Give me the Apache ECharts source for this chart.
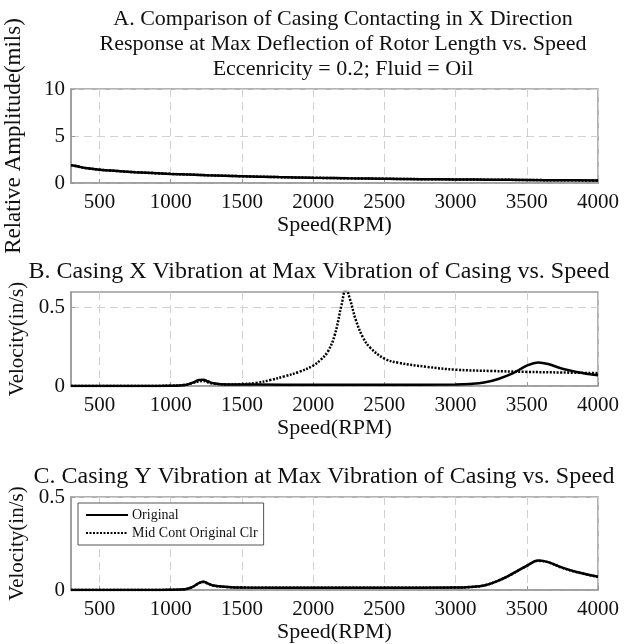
<!DOCTYPE html>
<html><head><meta charset="utf-8">
<script src="https://cdn.jsdelivr.net/npm/echarts@6/dist/echarts.min.js"></script>
<style>html,body{margin:0;padding:0;background:#fff}#c{width:635px;height:644px}</style>
</head><body><div id="c"></div>
<script>
// ---- data ----
var xTicks = [500, 1000, 1500, 2000, 2500, 3000, 3500, 4000];
// Panel A: relative amplitude (mils)
var speedA = [300, 350, 400, 500, 600, 750, 1000, 1250, 1500, 1750, 2000, 2250, 2500, 2750, 3000, 3250, 3500, 3750, 4000];
var ampOrigA = [1.9, 1.75, 1.6, 1.42, 1.3, 1.15, 0.97, 0.83, 0.72, 0.63, 0.56, 0.5, 0.45, 0.41, 0.38, 0.35, 0.32, 0.29, 0.27];
var ampMidA  = [1.9, 1.75, 1.6, 1.42, 1.3, 1.15, 0.97, 0.83, 0.72, 0.63, 0.56, 0.5, 0.45, 0.41, 0.38, 0.35, 0.32, 0.29, 0.27];
// Panel B: casing X velocity (in/s)
var speedOrigB = [300, 800, 1000, 1100, 1150, 1200, 1230, 1260, 1300, 1400, 1600, 2000, 2500, 3000, 3100, 3200, 3300, 3400, 3500, 3580, 3650, 3750, 3850, 4000];
var velOrigB   = [0.0, 0.0, 0.002, 0.006, 0.02, 0.038, 0.04, 0.03, 0.018, 0.01, 0.009, 0.008, 0.008, 0.01, 0.013, 0.022, 0.045, 0.08, 0.13, 0.15, 0.14, 0.11, 0.09, 0.068];
var speedMidB = [300, 800, 1000, 1100, 1150, 1200, 1230, 1260, 1300, 1400, 1500, 1600, 1700, 1800, 1900, 2000, 2050, 2100, 2150, 2200, 2230, 2260, 2300, 2350, 2400, 2500, 2600, 2800, 3000, 3250, 3500, 3750, 4000];
var velMidB   = [0.0, 0.0, 0.002, 0.008, 0.018, 0.03, 0.032, 0.024, 0.015, 0.01, 0.012, 0.02, 0.038, 0.062, 0.09, 0.13, 0.165, 0.215, 0.32, 0.52, 0.62, 0.55, 0.42, 0.31, 0.245, 0.175, 0.148, 0.122, 0.104, 0.096, 0.09, 0.086, 0.082];
// Panel C: casing Y velocity (in/s)
var speedC = [300, 800, 1000, 1100, 1150, 1200, 1230, 1260, 1300, 1400, 1500, 2000, 2500, 3000, 3100, 3200, 3300, 3400, 3500, 3580, 3650, 3750, 3850, 4000];
var velOrigC = [0.0, 0.0, 0.001, 0.004, 0.015, 0.038, 0.044, 0.036, 0.024, 0.016, 0.013, 0.012, 0.012, 0.013, 0.016, 0.024, 0.05, 0.088, 0.13, 0.158, 0.15, 0.12, 0.097, 0.072];
var velMidC  = [0.0, 0.0, 0.001, 0.004, 0.015, 0.037, 0.043, 0.035, 0.024, 0.016, 0.013, 0.012, 0.012, 0.013, 0.016, 0.024, 0.05, 0.087, 0.13, 0.157, 0.149, 0.119, 0.096, 0.071];

function pairs(xs, ys) { return xs.map(function (x, i) { return [x, ys[i]]; }); }

var FONT = 'Liberation Serif';
var grids = [
  {left: 71, right: 37, top: 89, height: 94},
  {left: 71, right: 37, top: 292, height: 94},
  {left: 71, right: 37, top: 497, height: 93}
];
grids.forEach(function (g) {
  g.show = true; g.borderColor = '#9a9a9a'; g.borderWidth = 1.5; g.backgroundColor = '#fff';
  g.containLabel = false; g.outerBoundsMode = 'none';
});

function plain(v) { return String(v); }

function xAxis(idx, gap) {
  return {
    type: 'value', gridIndex: idx, min: 300, max: 4000,
    name: 'Speed(RPM)', nameLocation: 'middle', nameGap: gap,
    nameTextStyle: {fontFamily: FONT, fontSize: 22, color: '#111'},
    axisLine: {show: true, lineStyle: {color: '#9a9a9a', width: 1.5}},
    axisTick: {show: true, inside: true, length: 4, customValues: xTicks, lineStyle: {color: '#9a9a9a'}},
    axisLabel: {customValues: xTicks, formatter: plain, fontFamily: FONT, fontSize: 21, color: '#111', margin: 9},
    splitLine: {show: true, lineStyle: {color: '#d0d0d0', type: [8, 5], width: 1}}
  };
}
function yAxis(idx, max, vals, name, gap, fs) {
  return {
    type: 'value', gridIndex: idx, min: 0, max: max,
    name: name, nameLocation: 'middle', nameGap: gap,
    nameTextStyle: {fontFamily: FONT, fontSize: fs, color: '#111'},
    axisLine: {show: true, lineStyle: {color: '#9a9a9a', width: 1.5}},
    axisTick: {show: true, inside: true, length: 4, customValues: vals, lineStyle: {color: '#9a9a9a'}},
    axisLabel: {customValues: vals, formatter: plain, fontFamily: FONT, fontSize: 21, color: '#111', margin: 6},
    splitLine: {show: true, lineStyle: {color: '#d0d0d0', type: [8, 5], width: 1}}
  };
}

function solid(name, xi, data) {
  return {name: name, type: 'line', xAxisIndex: xi, yAxisIndex: xi, data: data, showSymbol: false, symbol: 'none', smooth: 0.4,
    lineStyle: {color: '#000', width: 2.5, type: 'solid'}, itemStyle: {color: '#000'}, clip: true, z: 3};
}
function dotted(name, xi, data) {
  return {name: name, type: 'line', xAxisIndex: xi, yAxisIndex: xi, data: data, showSymbol: false, symbol: 'none', smooth: 0.4,
    lineStyle: {color: '#000', width: 2.5, type: [2, 1.5]}, itemStyle: {color: '#000'}, clip: true, z: 4};
}

var option = {
  animation: false,
  backgroundColor: '#fff',
  textStyle: {fontFamily: FONT},
  title: [
    {text: 'A. Comparison of Casing Contacting in X Direction\nResponse at Max Deflection of Rotor Length vs. Speed\nEccenricity = 0.2; Fluid = Oil',
     left: 338, top: 2, textAlign: 'center',
     textStyle: {fontFamily: FONT, fontSize: 22, fontWeight: 'normal', color: '#111', lineHeight: 25}},
    {text: 'B. Casing X Vibration at Max Vibration of Casing vs. Speed', left: 314, top: 254, textAlign: 'center',
     textStyle: {fontFamily: FONT, fontSize: 24, fontWeight: 'normal', color: '#111', lineHeight: 26}},
    {text: 'C. Casing Y Vibration at Max Vibration of Casing vs. Speed', left: 319, top: 459, textAlign: 'center',
     textStyle: {fontFamily: FONT, fontSize: 24, fontWeight: 'normal', color: '#111', lineHeight: 26}}
  ],
  legend: {
    data: ['Original', 'Mid Cont Original Clr'],
    orient: 'vertical', left: 78, top: 503,
    itemWidth: 42, itemHeight: 10, itemGap: 4,
    padding: [5, 6, 5, 7],
    backgroundColor: '#fff', borderColor: '#555', borderWidth: 1,
    itemStyle: {opacity: 0},
    textStyle: {fontFamily: FONT, fontSize: 14, color: '#111', padding: [0, 0, 0, -1]},
    selectedMode: false
  },
  grid: grids,
  xAxis: [xAxis(0, 23), xAxis(1, 24), xAxis(2, 26)],
  yAxis: [
    yAxis(0, 10, [0, 5, 10], 'Relative Amplitude(mils)', 46, 23),
    yAxis(1, 0.6, [0, 0.5], 'Velocity(in/s)', 43, 21),
    yAxis(2, 0.5, [0, 0.5], 'Velocity(in/s)', 43, 21)
  ],
  series: [
    solid('Original', 0, pairs(speedA, ampOrigA)),
    dotted('Mid Cont Original Clr', 0, pairs(speedA, ampMidA)),
    solid('Original', 1, pairs(speedOrigB, velOrigB)),
    dotted('Mid Cont Original Clr', 1, pairs(speedMidB, velMidB)),
    solid('Original', 2, pairs(speedC, velOrigC)),
    dotted('Mid Cont Original Clr', 2, pairs(speedC, velMidC))
  ]
};
var chart = echarts.init(document.getElementById('c'), null, {renderer: 'canvas'});
chart.setOption(option);
</script></body></html>
